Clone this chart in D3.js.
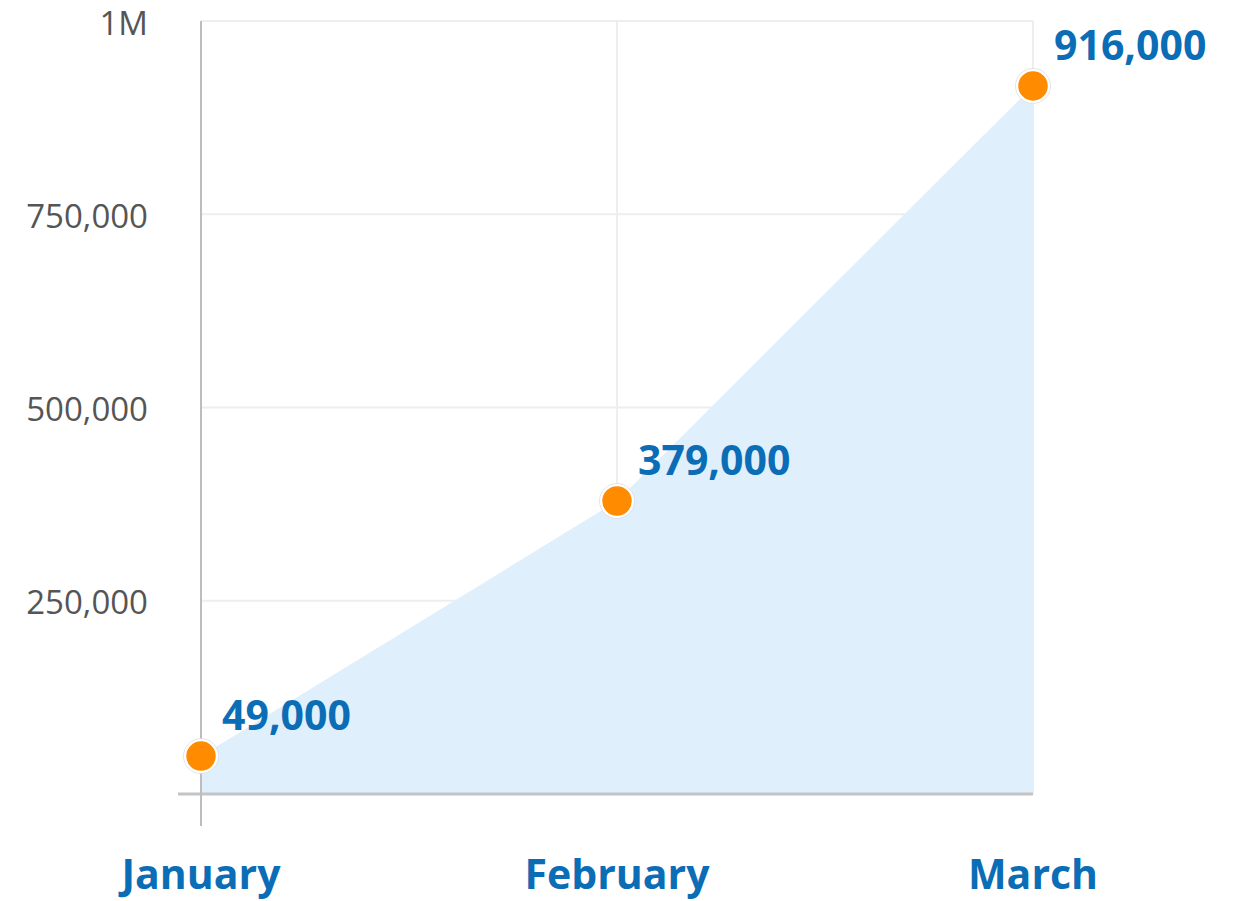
<!DOCTYPE html>
<html>
<head>
<meta charset="utf-8">
<title>Monthly totals</title>
<script src="https://d3js.org/d3.v7.min.js"></script>
<style>
    body { margin: 0; background: #fff; font-family: 'Open Sans', sans-serif; }
    .grid line { stroke: #eeeeee; stroke-width: 2px; }
    .ytick { fill: #555; font-size: 33px; }
    .xlabel { fill: #0a6db5; font-size: 41px; font-weight: 700; }
    .vlabel { fill: #0a6db5; font-size: 41px; font-weight: 700; }
</style>
</head>
<body>
<svg id="chart" width="1239" height="901"></svg>
<script>
    // data
    const months = ["January", "February", "March"];
    const totals = [49000, 379000, 916000];
    const yTicks = [250000, 500000, 750000, 1000000];
    const yTickLabels = ["250,000", "500,000", "750,000", "1M"];

    const svg = d3.select("#chart");
    const margin = { top: 21, left: 201, right: 206, bottom: 107 };
    const width = +svg.attr("width") - margin.left - margin.right;
    const height = +svg.attr("height") - margin.top - margin.bottom;

    const x = d3.scalePoint().domain(months).range([0, width]);
    const y = d3.scaleLinear().domain([0, 1000000]).range([height, 0]);

    const g = svg.append("g").attr("transform", "translate(" + margin.left + "," + margin.top + ")");

    // gridlines
    const grid = g.append("g").attr("class", "grid");
    grid.selectAll("line.h").data(yTicks).enter().append("line")
        .attr("class", "h")
        .attr("x1", 0).attr("x2", width)
        .attr("y1", d => y(d)).attr("y2", d => y(d));
    grid.selectAll("line.v").data(months.slice(1)).enter().append("line")
        .attr("class", "v")
        .attr("x1", d => x(d)).attr("x2", d => x(d))
        .attr("y1", 0).attr("y2", height);

    // area
    const pts = months.map((m, i) => ({ m: m, v: totals[i] }));
    const area = d3.area().x(d => x(d.m)).y0(y(0)).y1(d => y(d.v));
    g.append("path").datum(pts)
        .attr("d", area)
        .attr("fill", "#dff0fc");

    // axes lines
    g.append("line")
        .attr("x1", -23).attr("x2", width)
        .attr("y1", y(0)).attr("y2", y(0))
        .attr("stroke", "#c4c4c4").attr("stroke-width", 3);
    g.append("line")
        .attr("x1", 0).attr("x2", 0)
        .attr("y1", 0).attr("y2", y(0) + 32)
        .attr("stroke", "#bdbdbd").attr("stroke-width", 2);

    // y tick labels
    g.selectAll("text.ytick").data(yTicks).enter().append("text")
        .attr("class", "ytick")
        .attr("x", -53)
        .attr("y", d => y(d) + 2)
        .attr("dy", "0.35em")
        .attr("text-anchor", "end")
        .text((d, i) => yTickLabels[i]);

    // x labels
    g.selectAll("text.xlabel").data(months).enter().append("text")
        .attr("class", "xlabel")
        .attr("x", d => x(d))
        .attr("y", y(0) + 95)
        .attr("text-anchor", "middle")
        .text(d => d);

    // points
    g.selectAll("circle.pt").data(pts).enter().append("circle")
        .attr("class", "pt")
        .attr("cx", d => x(d.m))
        .attr("cy", d => y(d.v))
        .attr("r", 16)
        .attr("fill", "#ff8c00")
        .attr("stroke", "#fff")
        .attr("stroke-width", 2.5);
    g.selectAll("circle.ring").data(pts).enter().append("circle")
        .attr("cx", d => x(d.m))
        .attr("cy", d => y(d.v))
        .attr("r", 17.5)
        .attr("fill", "none")
        .attr("stroke", "#ddd")
        .attr("stroke-width", 0.8);

    // value labels
    g.selectAll("text.vlabel").data(pts).enter().append("text")
        .attr("class", "vlabel")
        .attr("x", d => x(d.m) + 21)
        .attr("y", d => y(d.v) - 26)
        .text(d => d3.format(",")(d.v));
</script>
</body>
</html>
